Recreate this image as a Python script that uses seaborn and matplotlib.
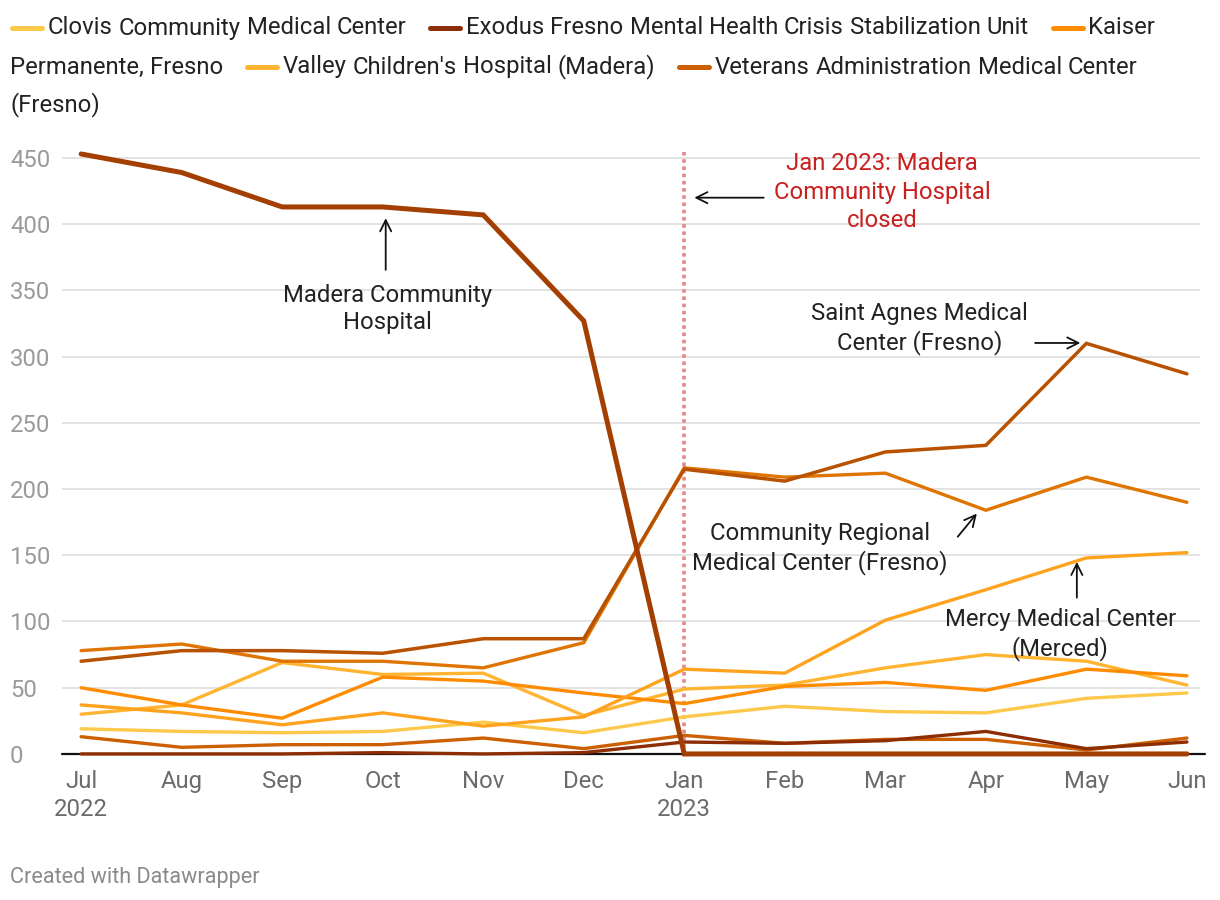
import matplotlib
matplotlib.use("Agg")
import matplotlib.pyplot as plt
from matplotlib.lines import Line2D
import seaborn as sns
import pandas as pd

# monthly values, Jul 2022 .. Jun 2023
months = ["Jul\n2022", "Aug", "Sep", "Oct", "Nov", "Dec",
          "Jan\n2023", "Feb", "Mar", "Apr", "May", "Jun"]

madera = [453, 439, 413, 413, 407, 327, 0, 0, 0, 0, 0, 0]
saint_agnes = [70, 78, 78, 76, 87, 87, 215, 206, 228, 233, 310, 287]
community_regional = [78, 83, 70, 70, 65, 84, 216, 209, 212, 184, 209, 190]
mercy = [37, 31, 22, 31, 21, 28, 64, 61, 101, 124, 148, 152]
kaiser = [50, 37, 27, 58, 55, 46, 38, 51, 54, 48, 64, 59]
valley = [30, 37, 69, 60, 61, 29, 49, 52, 65, 75, 70, 52]
clovis = [19, 17, 16, 17, 24, 16, 28, 36, 32, 31, 42, 46]
veterans = [13, 5, 7, 7, 12, 4, 14, 8, 11, 11, 3, 12]
exodus = [0, 0, 0, 1, 0, 1, 9, 8, 10, 17, 4, 9]

legend_labels = ["Clovis Community Medical Center",
                 "Exodus Fresno Mental Health Crisis Stabilization Unit",
                 "Kaiser Permanente, Fresno",
                 "Valley Children's Hospital (Madera)",
                 "Veterans Administration Medical Center (Fresno)"]

series = [
    ("Clovis", clovis, "#fdc94a", 2.4),
    ("VA", veterans, "#cc6000", 2.4),
    ("Exodus", exodus, "#8c2d04", 2.4),
    ("Valley", valley, "#ffb432", 2.4),
    ("Kaiser", kaiser, "#ff8c00", 2.4),
    ("Mercy", mercy, "#ffa31f", 2.4),
    ("Community Regional", community_regional, "#e07400", 2.4),
    ("Saint Agnes", saint_agnes, "#b85200", 2.5),
    ("Madera", madera, "#a33f00", 3.6),
]
legend_colors = ["#fdc94a", "#8c2d04", "#ff8c00", "#ffb432", "#cc6000"]

sns.set_theme(style="white")
plt.rcParams["font.family"] = ["Roboto", "DejaVu Sans"]

W, H = 1220, 900
FS = 17.2
fig = plt.figure(figsize=(W / 100, H / 100), dpi=100)
ax = fig.add_axes([62 / W, 1 - 755 / H, (1200 - 62) / W, (755 - 150) / H])

x = list(range(len(months)))
for name, vals, col, lw in series:
    df = pd.DataFrame({"month": x, "value": vals})
    sns.lineplot(data=df, x="month", y="value", color=col, linewidth=lw,
                 ax=ax, clip_on=False, solid_joinstyle="miter")

ax.set_xlim(-0.19, 11.13)
ax.set_ylim(-0.8, 456)
ax.set_xlabel("")
ax.set_ylabel("")
for s in ax.spines.values():
    s.set_visible(False)

yt = [0, 50, 100, 150, 200, 250, 300, 350, 400, 450]
ax.set_yticks(yt)
ax.set_yticklabels([str(v) for v in yt])
for v in yt[1:]:
    ax.axhline(v, color="#e3e3e3", lw=1.4, zorder=0)
ax.axhline(0, color="#111111", lw=1.6, zorder=1.5, xmax=1.004, clip_on=False)
ax.tick_params(axis="y", length=0, pad=37.4, labelsize=FS, labelcolor="#9a9a9a")
for lab in ax.get_yticklabels():
    lab.set_horizontalalignment("left")

ax.set_xticks(x)
ax.set_xticklabels(months, linespacing=1.3)
ax.tick_params(axis="x", length=0, pad=10.5, labelsize=FS, labelcolor="#6b6b6b")

# closure marker
ax.axvline(6, ymin=0, ymax=1, color="#e3878a", lw=2.6, linestyle=(0, (1, 1)), zorder=1)

arrow = dict(arrowstyle="->", color="#111111", lw=1.3, mutation_scale=20, shrinkA=0, shrinkB=0)
txt = dict(fontsize=FS, color="#222222", ha="center", va="center", linespacing=1.27)

ax.annotate("", xy=(3.03, 404.5), xytext=(3.03, 365.5), arrowprops=arrow)
ax.text(3.05, 336, "Madera Community\nHospital", **txt)

ax.annotate("", xy=(6.1, 420), xytext=(6.79, 420), arrowprops=arrow)
ax.text(7.97, 424, "Jan 2023: Madera\nCommunity Hospital\nclosed",
        fontsize=FS, color="#c8201e", ha="center", va="center", linespacing=1.3)

ax.annotate("", xy=(9.94, 310.3), xytext=(9.49, 310.3), arrowprops=arrow)
ax.text(8.34, 321, "Saint Agnes Medical\nCenter (Fresno)", **txt)

ax.annotate("", xy=(8.91, 181.5), xytext=(8.72, 164), arrowprops=arrow)
ax.text(7.35, 155, "Community Regional\nMedical Center (Fresno)", **txt)

ax.annotate("", xy=(9.905, 145), xytext=(9.905, 118), arrowprops=arrow)
ax.text(9.74, 90, "Mercy Medical Center\n(Merced)", **txt)

# legend, flowed word by word like the original
renderer = fig.canvas.get_renderer()


def text_w(s):
    t = fig.text(0, 0, s, fontsize=FS)
    w = t.get_window_extent(renderer).width
    t.remove()
    return w


space = text_w("a b") - text_w("ab")
px, row = 10.0, 0
row_y = [28, 67, 105]
max_x = 1212
for label, col in zip(legend_labels, legend_colors):
    if px + 38 > max_x:
        px, row = 10.0, row + 1
    yf = 1 - row_y[row] / H
    fig.add_artist(Line2D([(px + 2) / W, (px + 32) / W], [yf, yf], color=col,
                          lw=3.6, solid_capstyle="round", transform=fig.transFigure))
    px += 38
    for word in label.split(" "):
        w = text_w(word)
        if px + w > max_x:
            px, row = 10.0, row + 1
        fig.text(px / W, 1 - row_y[row] / H, word, fontsize=FS, color="#222222",
                 ha="left", va="center")
        px += w + space
    px += 16

fig.text(10 / W, 1 - 877 / H, "Created with Datawrapper", fontsize=15.6,
         color="#8a8a8a", ha="left", va="center")

fig.savefig("out.png", dpi=100)
